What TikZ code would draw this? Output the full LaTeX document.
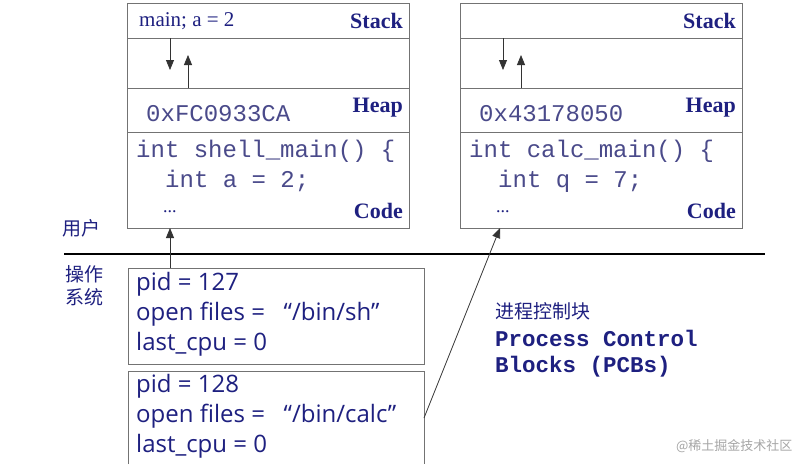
\documentclass[tikz,border=0pt]{standalone}
\usepackage{fontspec}
\setmainfont{Liberation Serif}
\newfontfamily\pcbfont{Open Sans}
\newfontfamily\codefont{Liberation Mono}
\newfontfamily\cjk{Noto Sans CJK SC}
\usetikzlibrary{arrows.meta}
\definecolor{navy}{HTML}{1E2080}
\definecolor{codec}{HTML}{4A4A8A}
\tikzset{
 x=1pt,y=-1pt,
 box/.style={draw=black!55,line width=0.9pt},
 ttl/.style={font=\bfseries\fontsize{22}{22}\selectfont,text=navy,anchor=east,inner sep=0pt},
 code/.style={font=\codefont\fontsize{24}{24}\selectfont,text=codec,anchor=west,inner sep=0pt},
 pcb/.style={font=\pcbfont\fontsize{24}{30}\selectfont,text=navy,anchor=north west,align=left,inner sep=0pt},
 arr/.style={-{Triangle[length=10pt,width=8pt]},line width=0.8pt,black!80},
 lbl/.style={font=\cjk\fontsize{19}{23}\selectfont,text=navy,align=left,inner sep=0pt},
 pmono/.style={font=\codefont\bfseries\fontsize{22.5}{22}\selectfont,text=navy,anchor=west,inner sep=0pt}
}
\begin{document}
\begin{tikzpicture}
\useasboundingbox (0,0) rectangle (807,472);
\fill[white] (0,0) rectangle (807,472);
% left process
\draw[box] (127,3) rectangle (409,228);
\foreach \yy in {38,88,132}{\draw[box] (127,\yy) -- (409,\yy);}
\node[font=\fontsize{21}{21}\selectfont,text=navy,anchor=west,inner sep=0pt] (ls) at (139,21) {main; a = 2};
\node[ttl] at (403,21) {Stack};
\node[ttl] at (403,108) {Heap};
\node[ttl] at (403,211) {Code};
\node[code] at (146,114) {0xFC0933CA};
\node[code] at (136,151) {int shell\_main() \{};
\node[code] at (165,181) {int a = 2;};
\node[font=\fontsize{18}{18}\selectfont,text=navy,anchor=west,inner sep=0pt] at (163,212) {...};
\coordinate (l1) at (170,38); \coordinate (l1e) at (170,70);
\coordinate (l2) at (188,88); \coordinate (l2e) at (188,55);
\draw[arr] (l1) -- (l1e); \draw[arr] (l2) -- (l2e);
\coordinate (lbot) at (170,228);
% right process
\draw[box] (460,3) rectangle (742,228);
\foreach \yy in {38,88,132}{\draw[box] (460,\yy) -- (742,\yy);}
\node[ttl] at (736,21) {Stack};
\node[ttl] at (736,108) {Heap};
\node[ttl] at (736,211) {Code};
\node[code] at (479,114) {0x43178050};
\node[code] at (469,151) {int calc\_main() \{};
\node[code] at (498,181) {int q = 7;};
\node[font=\fontsize{18}{18}\selectfont,text=navy,anchor=west,inner sep=0pt] at (496,212) {...};
\coordinate (r1) at (503,38); \coordinate (r1e) at (503,70);
\coordinate (r2) at (521,88); \coordinate (r2e) at (521,55);
\draw[arr] (r1) -- (r1e); \draw[arr] (r2) -- (r2e);
\coordinate (rbot) at (500,228);
% divider
\draw[line width=2.4pt] (64,254) -- (765,254);
\node[lbl,anchor=west] at (62,228) {用户};
\node[lbl,anchor=north west] at (65,265) {操作\\系统};
% PCBs
\draw[box] (128,268) rectangle (424,364);
\node[pcb] (p1) at (136,272) {pid = 127\\open files = \ \ “/bin/sh”\\last\_cpu = 0};
\draw[box] (128,464) -- (128,371) -- (424,371) -- (424,464);
\node[pcb] (p2) at (136,374) {pid = 128\\open files = \ \ “/bin/calc”\\last\_cpu = 0};
\coordinate (p1t) at (170,268);
\coordinate (p2r) at (424,418);
\draw[arr] (p1t) -- (lbot);
\draw[arr] (p2r) -- (rbot);
\node[lbl,anchor=west] at (495,311) {进程控制块};
\node[pmono] at (495,338) {Process Control};
\node[pmono] at (495,367) {Blocks (PCBs)};
\node[font=\cjk\fontsize{13}{13}\selectfont,text=black!35,anchor=east] at (796,446) {@稀土掘金技术社区};
\end{tikzpicture}
\end{document}
